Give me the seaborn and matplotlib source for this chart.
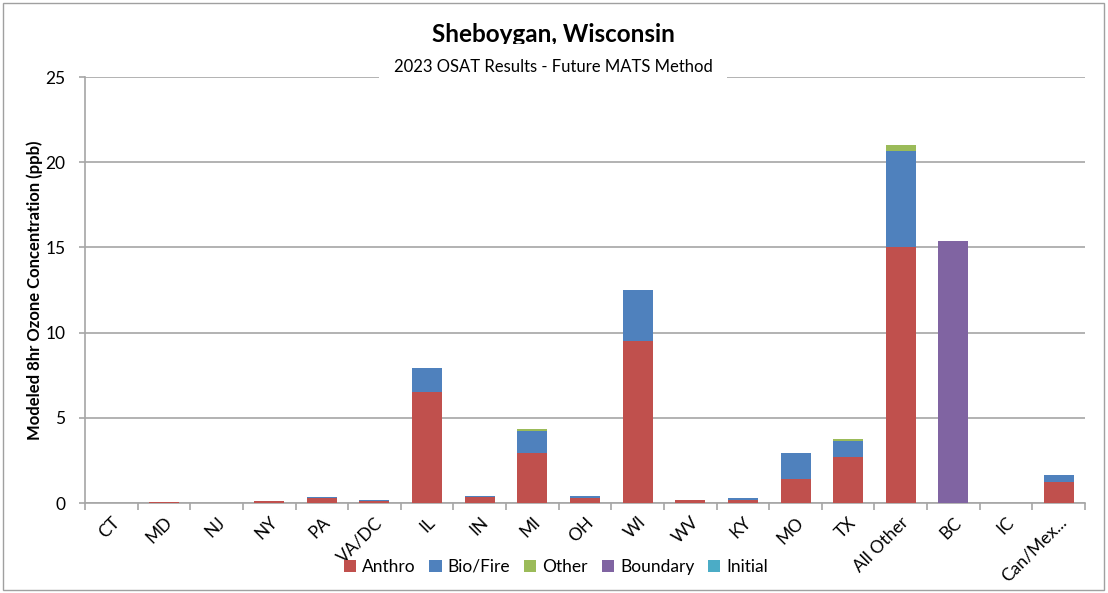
import matplotlib
matplotlib.use("Agg")
import matplotlib.pyplot as plt
import seaborn as sns
import pandas as pd
import numpy as np
from matplotlib.patches import Patch, Rectangle

categories = ["CT", "MD", "NJ", "NY", "PA", "VA/DC", "IL", "IN", "MI", "OH", "WI",
              "WV", "KY", "MO", "TX", "All Other", "BC", "IC", "Can/Mex..."]
anthro   = [0.0, 0.05, 0.0, 0.12, 0.30, 0.10, 6.50, 0.35, 2.95, 0.30, 9.50,
            0.15, 0.20, 1.41, 2.72, 15.02, 0.0, 0.0, 1.23]
biofire  = [0.0, 0.01, 0.0, 0.02, 0.05, 0.05, 1.40, 0.05, 1.30, 0.10, 3.00,
            0.02, 0.10, 1.52, 0.92, 5.64, 0.0, 0.0, 0.41]
other    = [0.0, 0.0, 0.0, 0.0, 0.0, 0.0, 0.0, 0.0, 0.10, 0.0, 0.0,
            0.0, 0.0, 0.0, 0.11, 0.34, 0.0, 0.0, 0.0]
boundary = [0.0, 0.0, 0.0, 0.0, 0.0, 0.0, 0.0, 0.0, 0.0, 0.0, 0.0,
            0.0, 0.0, 0.0, 0.0, 0.0, 15.38, 0.0, 0.0]
initial  = [0.0] * 19

series_names = ["Anthro", "Bio/Fire", "Other", "Boundary", "Initial"]
series_vals = [anthro, biofire, other, boundary, initial]
colors = ["#C0504D", "#4F81BD", "#9BBB59", "#8064A2", "#4BACC6"]

sns.set_theme(style="white")
plt.rcParams["font.family"] = ["Lato", "DejaVu Sans"]
plt.rcParams["text.color"] = "black"
plt.rcParams["axes.labelcolor"] = "black"
plt.rcParams["xtick.color"] = "black"
plt.rcParams["ytick.color"] = "black"

fig = plt.figure(figsize=(11.08, 5.93), dpi=100)
fig.patch.set_facecolor("white")
ax = fig.add_axes([85/1108, 90/593, 1000/1108, 426/593])

cum = np.cumsum(np.array(series_vals), axis=0)
# draw from top of stack down so each lower segment overlays the one above
for i in range(len(series_names) - 1, -1, -1):
    df = pd.DataFrame({"cat": categories, "val": cum[i]})
    sns.barplot(data=df, x="cat", y="val", color=colors[i], ax=ax,
                width=0.57, saturation=1, order=categories, zorder=3,
                edgecolor="none", linewidth=0)

ax.set_ylim(0, 25)
ax.set_xlim(-0.5, len(categories) - 0.5)
ax.set_yticks([0, 5, 10, 15, 20, 25])
ax.yaxis.grid(True, color="#A6A6A6", linewidth=1.2, zorder=0)
ax.set_axisbelow(True)
for s in ["top", "right"]:
    ax.spines[s].set_visible(False)
for s in ["left", "bottom"]:
    ax.spines[s].set_color("#A6A6A6")
    ax.spines[s].set_linewidth(1.2)

ax.set_xlabel("")
ax.set_ylabel("Modeled 8hr Ozone Concentration (ppb)", fontsize=12,
              fontweight="bold")
ax.yaxis.set_label_coords(-0.042, 0.5)
ax.set_xticks(range(len(categories)))
ax.set_xticklabels(categories, rotation=45, ha="right", rotation_mode="anchor",
                   fontsize=12.5)
ax.tick_params(axis="x", which="major", length=0, pad=8)
ax.set_xticks(np.arange(-0.5, len(categories), 1), minor=True)
ax.tick_params(axis="x", which="minor", length=5, width=1.2, color="#A6A6A6",
               direction="out", bottom=True)
ax.tick_params(axis="y", length=4, width=1.2, color="#A6A6A6", left=True,
               labelsize=12.5, labelcolor="black", pad=10)

fig.text(553/1108, 1 - 34/593, "Sheboygan, Wisconsin", ha="center", va="center",
         fontsize=17.5, fontweight="bold")
fig.text(553/1108, 1 - 67/593, "2023 OSAT Results - Future MATS Method",
         ha="center", va="center", fontsize=12,
         bbox=dict(facecolor="white", edgecolor="none", boxstyle="square,pad=0.9"),
         zorder=10)

handles = [Patch(facecolor=c, edgecolor="none", label=n)
           for n, c in zip(series_names, colors)]
fig.legend(handles=handles, loc="center", bbox_to_anchor=(556/1108, 1 - 567/593),
           ncol=5, frameon=False, fontsize=12.5, handlelength=0.7,
           handleheight=0.7, handletextpad=0.35, columnspacing=0.8)

fig.patches.append(Rectangle((3/1108, 3/593), 1101/1108, 587/593,
                             transform=fig.transFigure, fill=False,
                             edgecolor="#A0A0A0", linewidth=1))

fig.savefig("out.png", dpi=100)
